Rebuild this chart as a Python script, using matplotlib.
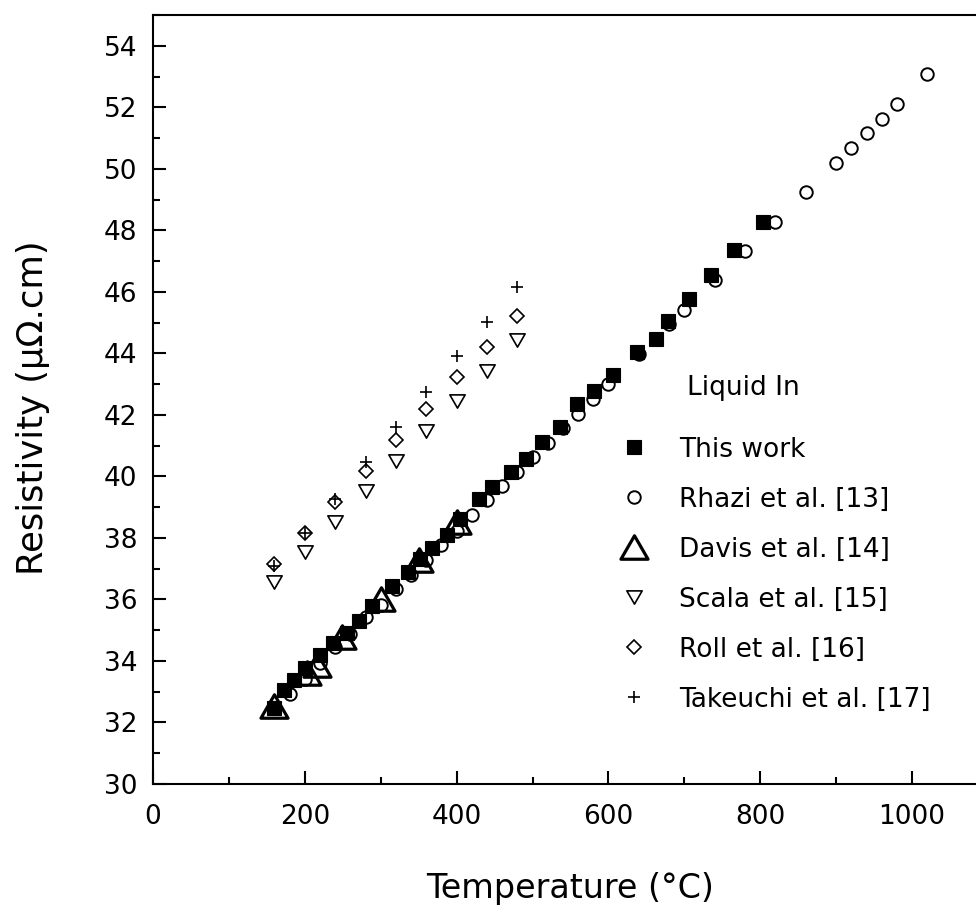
import matplotlib
matplotlib.use("Agg")
import matplotlib.pyplot as plt
from matplotlib.path import Path
from matplotlib.markers import MarkerStyle
from matplotlib.ticker import FixedLocator, MultipleLocator

plt.rcParams['font.family'] = ['DejaVu Sans']

# ---------------- data ----------------
this_work_T = [160, 173, 186, 200, 220, 237, 255, 271, 289, 315, 336, 352, 368, 387, 404,
               429, 447, 472, 492, 513, 536, 559, 581, 606, 637, 663, 679, 706, 735, 765, 803]
this_work_R = [32.48, 33.07, 33.38, 33.76, 34.19, 34.57, 34.92, 35.30, 35.78, 36.43, 36.90,
               37.33, 37.67, 38.08, 38.60, 39.28, 39.64, 40.14, 40.57, 41.11, 41.62, 42.34,
               42.77, 43.31, 44.04, 44.46, 45.05, 45.76, 46.54, 47.36, 48.27]

rhazi_T = [180, 200, 220, 240, 260, 280, 300, 320, 340, 360, 380, 400, 420, 440, 460, 480,
           500, 520, 540, 560, 580, 600, 640, 680, 700, 740, 780, 820, 860, 900, 920, 940,
           960, 980, 1020]
rhazi_R = [32.94, 33.42, 33.92, 34.46, 34.89, 35.43, 35.81, 36.35, 36.79, 37.27, 37.76, 38.24,
           38.76, 39.22, 39.68, 40.14, 40.63, 41.10, 41.57, 42.03, 42.52, 43.00, 43.97, 44.95,
           45.41, 46.39, 47.33, 48.27, 49.23, 50.18, 50.67, 51.15, 51.62, 52.10, 53.07]

davis_T = [160, 203, 216, 249, 300, 350, 401]
davis_R = [32.55, 33.60, 33.86, 34.78, 36.02, 37.27, 38.52]

lit_T = [160, 200, 240, 280, 320, 360, 400, 440, 480]
scala_R = [36.57, 37.54, 38.52, 39.52, 40.50, 41.47, 42.45, 43.44, 44.42]
roll_R = [37.16, 38.16, 39.16, 40.19, 41.19, 42.20, 43.22, 44.22, 45.23]
takeuchi_R = [37.08, 38.16, 39.27, 40.46, 41.60, 42.74, 43.90, 45.01, 46.17]

series_labels = ['This work', 'Rhazi et al. [13]', 'Davis et al. [14]',
                 'Scala et al. [15]', 'Roll et al. [16]', 'Takeuchi et al. [17]']
legend_title = 'Liquid In'

x_ticks = [0, 200, 400, 600, 800, 1000]
x_ticklabels = ['0', '200', '400', '600', '800', '1000']
y_ticks = [30, 32, 34, 36, 38, 40, 42, 44, 46, 48, 50, 52, 54]
y_ticklabels = ['30', '32', '34', '36', '38', '40', '42', '44', '46', '48', '50', '52', '54']

# ---------------- figure / axes geometry (pixels) ----------------
W, H, DPI = 976, 905, 100
AX_L, AX_R, AX_T, AX_B = 153, 988, 15, 784
fig = plt.figure(figsize=(W / DPI, H / DPI), dpi=DPI)
ax = fig.add_axes([AX_L / W, (H - AX_B) / H, (AX_R - AX_L) / W, (AX_B - AX_T) / H])

up_tri = MarkerStyle(Path([(0, 0.866), (-1, -0.866), (1, -0.866), (0, 0.866)], closed=True),
                     joinstyle='miter')
down_tri = MarkerStyle(Path([(0, -0.866), (-1, 0.866), (1, 0.866), (0, -0.866)], closed=True),
                       joinstyle='miter')

h_rh, = ax.plot(rhazi_T, rhazi_R, ls='none', marker='o', ms=9, mfc='none', mec='black',
                mew=1.4, zorder=3)
h_tw, = ax.plot(this_work_T, this_work_R, ls='none', marker='s', ms=9.5, mfc='black',
                mec='black', mew=0.8, zorder=4)
h_dv, = ax.plot(davis_T, davis_R, ls='none', marker=up_tri, ms=19.5, mfc='none', mec='black',
                mew=2.3, zorder=5)
h_sc, = ax.plot(lit_T, scala_R, ls='none', marker=down_tri, ms=11, mfc='none', mec='black',
                mew=1.2, zorder=3)
h_ro, = ax.plot(lit_T, roll_R, ls='none', marker='D', ms=6.8, mfc='none', mec='black',
                mew=1.2, zorder=3)
h_tk, = ax.plot(lit_T, takeuchi_R, ls='none', marker='+', ms=8.5, mec='black', mew=1.2,
                zorder=3)

ax.set_xlim(0, 1100)
ax.set_ylim(30, 55)
ax.xaxis.set_major_locator(FixedLocator(x_ticks))
ax.set_xticklabels(x_ticklabels)
ax.xaxis.set_minor_locator(MultipleLocator(100))
ax.yaxis.set_major_locator(FixedLocator(y_ticks))
ax.set_yticklabels(y_ticklabels)
ax.yaxis.set_minor_locator(MultipleLocator(1))

ax.tick_params(which='major', direction='in', length=9.4, width=1.5, labelsize=19)
ax.tick_params(which='minor', direction='in', length=5.0, width=1.5)
ax.tick_params(axis='x', which='major', pad=14.5)
ax.tick_params(axis='y', which='major', pad=11.5)
for sp in ax.spines.values():
    sp.set_linewidth(1.5)

ax.set_xlabel('Temperature (°C)', fontsize=24, va='baseline')
ax.xaxis.set_label_coords(0.5, -(898 - AX_B) / (AX_B - AX_T))
ax.set_ylabel('Resistivity (μΩ.cm)', fontsize=25.5, va='baseline')
ax.yaxis.set_label_coords(-(AX_L - 43) / (AX_R - AX_L), (AX_B - 408) / (AX_B - AX_T))

# legend
leg = ax.legend([h_tw, h_rh, h_dv, h_sc, h_ro, h_tk], series_labels,
                loc='upper left', bbox_to_anchor=(619.5 / W, 1 - 436.6 / H),
                bbox_transform=fig.transFigure, frameon=False, fontsize=19,
                numpoints=1, handlelength=1.1, handletextpad=1.15,
                labelspacing=0.91, borderpad=0, borderaxespad=0)
fig.text(687 / W, 1 - 395 / H, legend_title, fontsize=19, ha='left', va='baseline')

fig.savefig('out.png', dpi=DPI)
